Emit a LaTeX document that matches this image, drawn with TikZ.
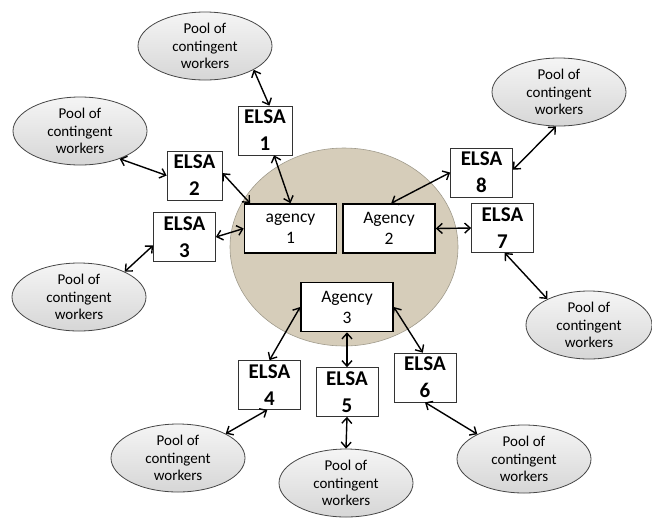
\documentclass[tikz,border=0pt]{standalone}
\usepackage{fontspec}
\setmainfont{Carlito}
\usepackage{tikz}
\usetikzlibrary{calc}
\usetikzlibrary{positioning}
\usetikzlibrary{shapes.geometric}
\usetikzlibrary{arrows.meta}
\definecolor{hubtan}{RGB}{214,205,186}
\definecolor{hubline}{RGB}{160,155,140}
\definecolor{poolline}{RGB}{70,70,70}
\tikzstyle{hubnode} = [draw=hubline, fill=hubtan, ellipse, line width=0.6pt, minimum width=228pt, minimum height=198pt]
\tikzstyle{poolnode} = [draw=poolline, ellipse, line width=0.8pt, top color=gray!8, bottom color=gray!32, minimum width=134pt, minimum height=68pt, inner sep=0pt, align=center, font=\fontsize{15}{17.5}\selectfont]
\tikzstyle{elsanode} = [draw=black!80, fill=white, rectangle, line width=0.7pt, minimum width=62pt, minimum height=49pt, inner sep=0pt, align=center, font=\fontsize{21}{27}\selectfont\bfseries]
\tikzstyle{agencynode} = [draw, fill=white, rectangle, line width=1.6pt, minimum width=92pt, minimum height=49pt, inner sep=0pt, align=center, font=\fontsize{17.5}{21}\selectfont]
\tikzstyle{link} = [<->, >={Straight Barb[length=5.5pt,width=10pt]}, line width=1.4pt]

\begin{document}
\begin{tikzpicture}[x=1pt, y=-1pt]
\useasboundingbox (0,0) rectangle (652,520);
\node[hubnode] (hub) at (344,247) {};

\node[agencynode] (agency1) at (290.5,228.5) {agency\\1};
\node[agencynode] (agency2) at (389,228.5) {Agency\\2};
\node[agencynode] (agency3) at (347,307) {Agency\\3};

\node[elsanode, minimum width=54pt] (elsa1) at (265,130.5) {ELSA\\1};
\node[elsanode, minimum width=55pt] (elsa2) at (194.5,175.5) {ELSA\\2};
\node[elsanode] (elsa3) at (184.5,237) {ELSA\\3};
\node[elsanode] (elsa4) at (269.5,385) {ELSA\\4};
\node[elsanode] (elsa5) at (347,392) {ELSA\\5};
\node[elsanode] (elsa6) at (425,377.5) {ELSA\\6};
\node[elsanode] (elsa7) at (502.5,228) {ELSA\\7};
\node[elsanode] (elsa8) at (481.5,172.5) {ELSA\\8};

\node[poolnode] (pool1) at (205,46) {Pool of\\contingent\\workers};
\node[poolnode] (pool2) at (80,131) {Pool of\\contingent\\workers};
\node[poolnode] (pool3) at (79,297) {Pool of\\contingent\\workers};
\node[poolnode] (pool4) at (178,458) {Pool of\\contingent\\workers};
\node[poolnode] (pool5) at (346,483) {Pool of\\contingent\\workers};
\node[poolnode] (pool6) at (524,459) {Pool of\\contingent\\workers};
\node[poolnode, minimum width=126pt] (pool7) at (589,325) {Pool of\\contingent\\workers};
\node[poolnode] (pool8) at (559,92) {Pool of\\contingent\\workers};

\draw[link] (pool1.-26) -- (elsa1.80);
\draw[link] (elsa1.-70) -- (agency1.north);
\draw[link] (pool2.-35) -- (elsa2.west);
\draw[link] (elsa2.5) -- (agency1.148);
\draw[link] (elsa3.east) -- (agency1.west);
\draw[link] (elsa3.195) -- (pool3.29);
\draw[link] (agency3.west) -- (elsa4.north);
\draw[link] (elsa4.-95) -- (pool4.27);
\draw[link] (agency3.south) -- (elsa5.north);
\draw[link] (elsa5.south) -- (pool5.north);
\draw[link] (agency3.east) -- (elsa6.95);
\draw[link] (elsa6.south) -- (pool6.152);
\draw[link] (agency2.east) -- (elsa7.west);
\draw[link] (elsa7.-85) -- (pool7.148);
\draw[link] (agency2.85) -- (elsa8.west);
\draw[link] (elsa8.5) -- (pool8.-95);
\end{tikzpicture}
\end{document}
